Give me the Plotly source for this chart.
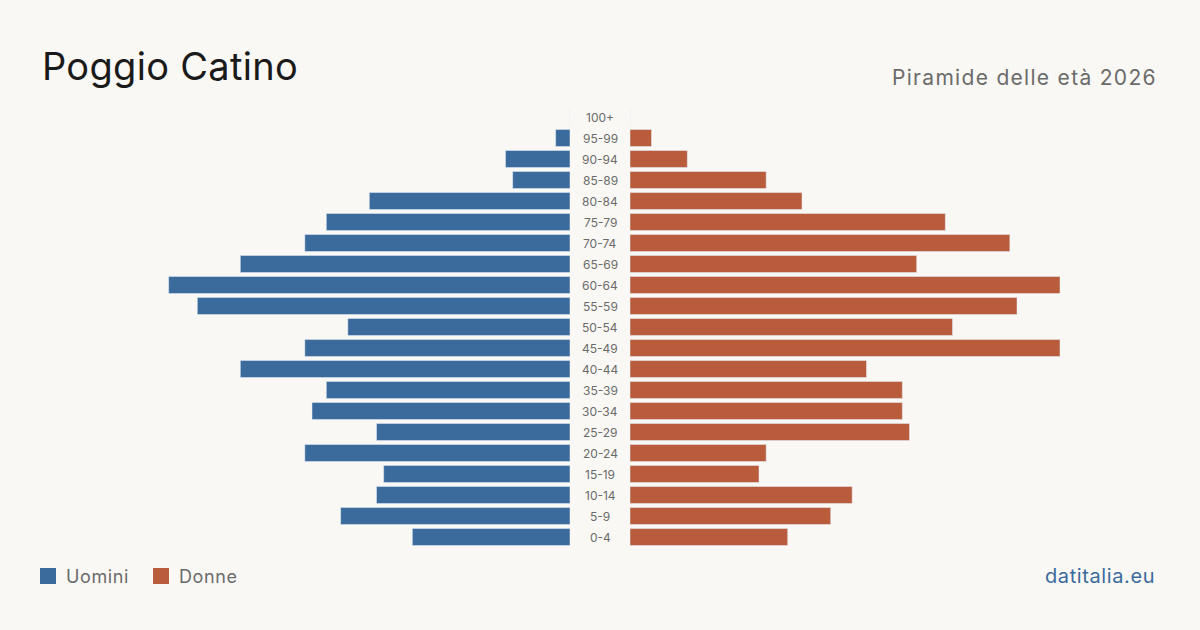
import plotly.graph_objects as go

age_groups = ["0-4", "5-9", "10-14", "15-19", "20-24", "25-29", "30-34", "35-39",
              "40-44", "45-49", "50-54", "55-59", "60-64", "65-69", "70-74", "75-79",
              "80-84", "85-89", "90-94", "95-99", "100+"]
men = [22, 32, 27, 26, 37, 27, 36, 34, 46, 37, 31, 52, 56, 46, 37, 34, 28, 8, 9, 2, 0]
women = [22, 28, 31, 18, 19, 39, 38, 38, 33, 60, 45, 54, 60, 40, 53, 44, 24, 19, 8, 3, 0]

BLUE = "#3b6b9c"
ORANGE = "#b95c3c"
BG = "#f9f8f4"
GRAY = "#6b6b6b"
FONT = "Inter"

W, H = 1200, 630
xmax = max(max(men), max(women))

fig = go.Figure()
fig.add_trace(go.Bar(y=age_groups, x=men, orientation="h", marker_color=BLUE,
                     xaxis="x", yaxis="y", showlegend=False, hoverinfo="x+y", name="Uomini"))
fig.add_trace(go.Bar(y=age_groups, x=women, orientation="h", marker_color=ORANGE,
                     xaxis="x2", yaxis="y", showlegend=False, hoverinfo="x+y", name="Donne"))

# center labels
for g in age_groups:
    fig.add_annotation(x=0.5, xref="paper", y=g, yref="y", text=g, showarrow=False,
                       font=dict(family=FONT, size=12, color=GRAY), xanchor="center", yanchor="middle")

top_px, bot_px = 106.5, 547.5
fig.update_layout(
    width=W, height=H,
    margin=dict(l=0, r=0, t=0, b=0),
    paper_bgcolor=BG, plot_bgcolor=BG,
    bargap=0.19,
    xaxis=dict(domain=[140 / W, 570 / W], range=[xmax, 0], visible=False, fixedrange=True),
    xaxis2=dict(domain=[630 / W, 1060 / W], range=[0, xmax], visible=False, fixedrange=True),
    yaxis=dict(domain=[1 - bot_px / H, 1 - top_px / H], categoryorder="array",
               categoryarray=age_groups, range=[-0.5, len(age_groups) - 0.5],
               visible=False, fixedrange=True),
    font=dict(family=FONT),
)

fig.add_annotation(x=40 / W, y=1 - 66 / H, xref="paper", yref="paper",
                   text="<span style='letter-spacing:0.3px'>Poggio Catino</span>",
                   showarrow=False, xanchor="left", yanchor="middle",
                   font=dict(family=FONT, size=38, color="#1a1a1a"))
fig.add_annotation(x=1159 / W, y=1 - 77 / H, xref="paper", yref="paper",
                   text="<span style='letter-spacing:1.3px'>Piramide delle età 2026</span>",
                   showarrow=False, xanchor="right", yanchor="middle",
                   font=dict(family=FONT, size=21, color=GRAY))

# legend
for i, (lab, col, x0) in enumerate([("Uomini", BLUE, 40), ("Donne", ORANGE, 153)]):
    fig.add_shape(type="rect", xref="paper", yref="paper",
                  x0=x0 / W, x1=(x0 + 16) / W, y0=1 - 584 / H, y1=1 - 568 / H,
                  fillcolor=col, line=dict(width=0))
    fig.add_annotation(x=(x0 + 24) / W, y=1 - 576 / H, xref="paper", yref="paper",
                       text="<span style='letter-spacing:0.6px'>" + lab + "</span>",
                       showarrow=False, xanchor="left", yanchor="middle",
                       font=dict(family=FONT, size=18, color=GRAY))

fig.add_annotation(x=1157 / W, y=1 - 576 / H, xref="paper", yref="paper",
                   text="<span style='letter-spacing:0.6px'>datitalia.eu</span>",
                   showarrow=False, xanchor="right", yanchor="middle",
                   font=dict(family=FONT, size=20, color=BLUE))

fig.write_html("out.html")
